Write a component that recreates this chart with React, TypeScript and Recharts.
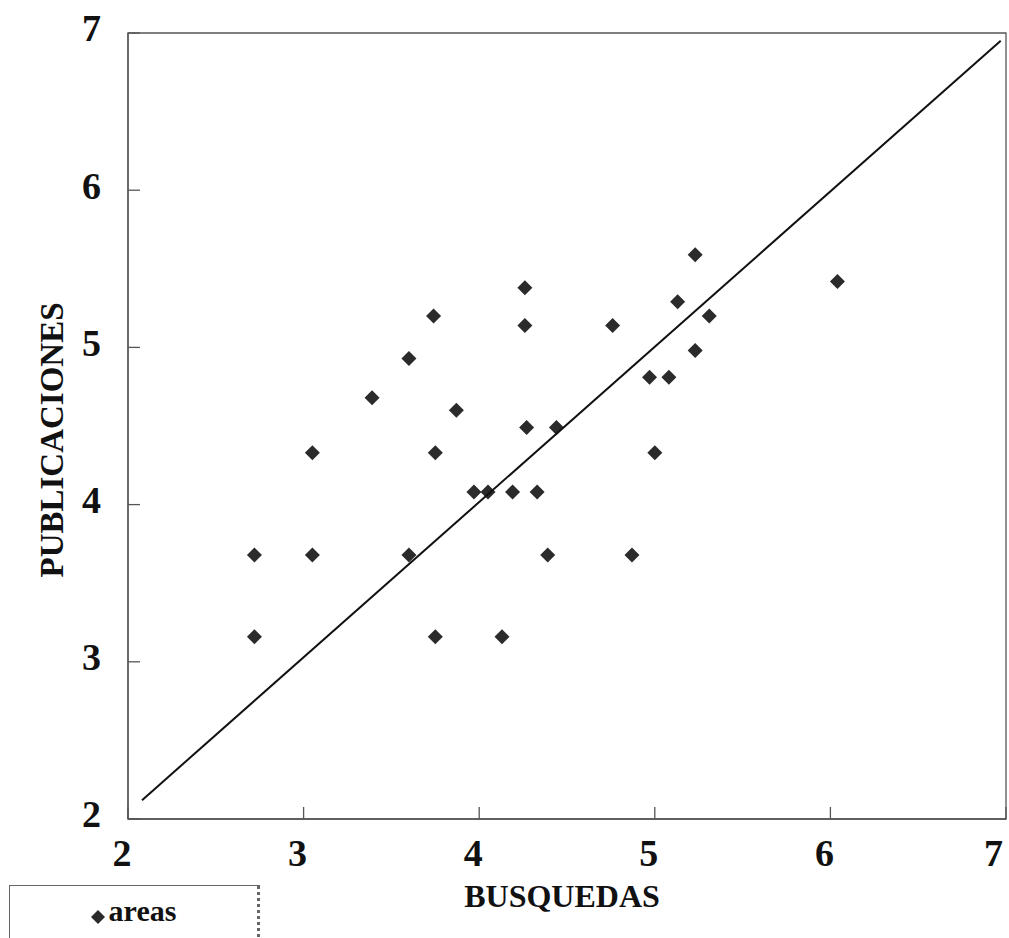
import React from "react";
import {
  ScatterChart,
  Scatter,
  XAxis,
  YAxis,
  ReferenceArea,
  Legend,
} from "recharts";

// valores
const busquedas = [
  4.26, 3.74, 4.26, 3.6, 3.39, 3.87, 4.27, 4.44, 3.05, 3.75, 3.97, 4.05, 4.19,
  4.33, 2.72, 3.05, 3.6, 4.39, 2.72, 3.75, 4.13, 5.23, 6.04, 5.13, 4.76, 5.31,
  5.23, 4.97, 5.08, 5.0, 4.87,
];
const publicaciones = [
  5.38, 5.2, 5.14, 4.93, 4.68, 4.6, 4.49, 4.49, 4.33, 4.33, 4.08, 4.08, 4.08,
  4.08, 3.68, 3.68, 3.68, 3.68, 3.16, 3.16, 3.16, 5.59, 5.42, 5.29, 5.14, 5.2,
  4.98, 4.81, 4.81, 4.33, 3.68,
];
// recta de ajuste
const fitX = [2.08, 6.97];
const fitY = [2.12, 6.95];
const ticks = [2, 3, 4, 5, 6, 7];

const areas = busquedas.map((x, i) => ({ x, y: publicaciones[i] }));
const fit = fitX.map((x, i) => ({ x, y: fitY[i] }));

const FONT = "'Liberation Serif', 'Times New Roman', serif";
const AXIS = "#555";

const Diamond = (props: any) => {
  const { cx, cy } = props;
  const r = 7.5;
  return (
    <path
      d={`M${cx},${cy - r}L${cx + r},${cy}L${cx},${cy + r}L${cx - r},${cy}Z`}
      fill="#2b2b2b"
    />
  );
};

const YTitle = (props: any) => {
  const vb = props.viewBox;
  const cy = vb.y + vb.height / 2 + 14;
  return (
    <text
      x={52}
      y={cy}
      transform={`rotate(-90, 52, ${cy})`}
      textAnchor="middle"
      dominantBaseline="central"
      fontFamily={FONT}
      fontWeight="bold"
      fontSize={33}
      fill="#111"
    >
      PUBLICACIONES
    </text>
  );
};

const XTitle = (props: any) => {
  const vb = props.viewBox;
  return (
    <text
      x={vb.x + vb.width / 2 - 5}
      y={907}
      textAnchor="middle"
      fontFamily={FONT}
      fontWeight="bold"
      fontSize={32}
      fill="#111"
    >
      BUSQUEDAS
    </text>
  );
};

const LegendBox = (props: any) => {
  const item = (props.payload || []).find((p: any) => p.value === "areas");
  return (
    <div
      style={{
        boxSizing: "border-box",
        width: 251,
        height: 60,
        border: "1px solid #666",
        borderRight: "3px dotted #666",
        display: "flex",
        alignItems: "flex-start",
        justifyContent: "center",
        paddingTop: 8,
        fontFamily: FONT,
        fontWeight: "bold",
        fontSize: 30,
        color: "#111",
      }}
    >
      <svg width={14} height={14} style={{ marginTop: 16, marginRight: 4 }}>
        <path d="M7,0L14,7L7,14L0,7Z" fill="#2b2b2b" />
      </svg>
      <span>{item ? item.value : "areas"}</span>
    </div>
  );
};

export default function App() {
  return (
    <div style={{ position: "absolute", left: 0, top: 0, background: "#fff" }}>
      <ScatterChart
        width={1009}
        height={938}
        margin={{ top: 33, right: 3, left: 48, bottom: 39 }}
      >
        <XAxis
          type="number"
          dataKey="x"
          domain={[2, 7]}
          ticks={ticks}
          allowDataOverflow
          height={80}
          stroke={AXIS}
          strokeWidth={1.3}
          tickSize={-12}
          tickMargin={32}
          tick={{ fontFamily: FONT, fontWeight: "bold", fontSize: 38, fill: "#111", dx: -6 }}
          label={<XTitle />}
        />
        <YAxis
          type="number"
          dataKey="y"
          domain={[2, 7]}
          ticks={ticks}
          allowDataOverflow
          width={80}
          stroke={AXIS}
          strokeWidth={1.3}
          tickSize={-12}
          tickMargin={39}
          tick={{ fontFamily: FONT, fontWeight: "bold", fontSize: 38, fill: "#111", dy: -5 }}
          label={<YTitle />}
        />
        <ReferenceArea
          x1={2}
          x2={7}
          y1={2}
          y2={7}
          fill="none"
          stroke={AXIS}
          strokeWidth={1.3}
          ifOverflow="visible"
        />
        <Scatter
          name="areas"
          data={areas}
          shape={<Diamond />}
          isAnimationActive={false}
        />
        <Scatter
          name="ajuste"
          data={fit}
          line={{ stroke: "#111", strokeWidth: 2 }}
          shape={() => null}
          legendType="none"
          isAnimationActive={false}
        />
        <Legend
          layout="vertical"
          align="center"
          verticalAlign="middle"
          wrapperStyle={{ left: 9, top: 885, width: 251, height: 60 }}
          content={<LegendBox />}
        />
      </ScatterChart>
    </div>
  );
}
